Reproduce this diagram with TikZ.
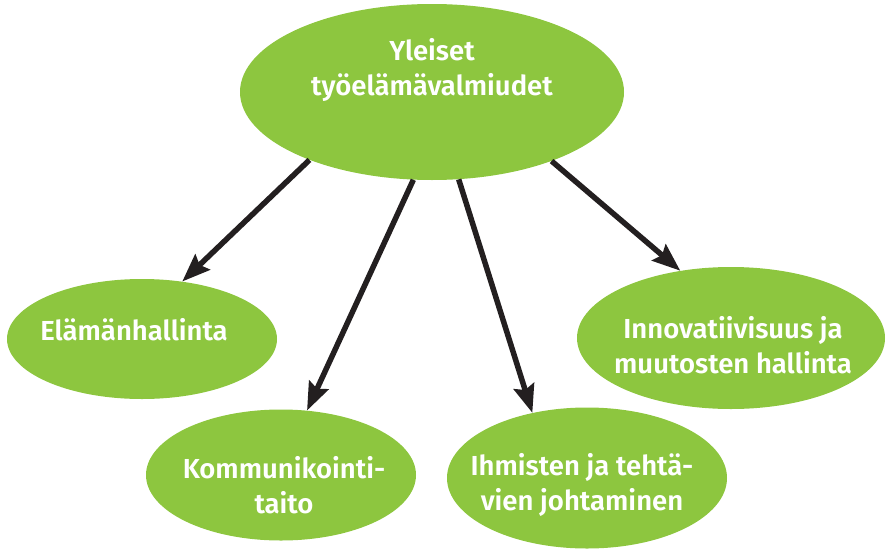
\documentclass[tikz,border=0pt]{standalone}
\usepackage{fontspec}
\setmainfont{Fira Sans}[UprightFont={* SemiBold}]
\usetikzlibrary{arrows.meta,shapes.geometric}
\definecolor{vihrea}{HTML}{8DC63F}
\definecolor{nuoli}{HTML}{231F20}
\tikzset{
	pallo/.style={ellipse, fill=vihrea, draw=none, inner sep=0pt},
	teksti/.style={text=white, align=center, font=\fontsize{27.5}{35}\selectfont},
	nuolet/.style={draw=nuoli, line width=5.5pt,
		-{Stealth[length=28pt, width=21pt, inset=4pt]}}
}
\begin{document}
\begin{tikzpicture}[x=1pt, y=-1pt]
	\useasboundingbox (0,0) rectangle (886,549);
	% Pallot
	\node[pallo, minimum width=384, minimum height=176] (yleiset) at (432,92) {};
	\node[pallo, minimum width=270, minimum height=120] (elama) at (142,339) {};
	\node[pallo, minimum width=270, minimum height=131] (komm) at (281,475) {};
	\node[pallo, minimum width=280, minimum height=141] (ihmiset) at (587,478) {};
	\node[pallo, minimum width=308, minimum height=142] (innov) at (731,338) {};
	% Tekstit
	\node[teksti] (yleisetT) at (432,70) {Yleiset\\työelämävalmiudet};
	\node[teksti] (elamaT) at (134,330) {Elämänhallinta};
	\node[teksti] (kommT) at (284,485) {Kommunikointi-\\taito};
	\node[teksti] (ihmisetT) at (582,485) {Ihmisten ja tehtä-\\vien johtaminen};
	\node[teksti] (innovT) at (733,345) {Innovatiivisuus ja\\muutosten hallinta};
	% Nuolet
	\draw[nuolet] (yleiset.209) -- (elama.55);
	\draw[nuolet] (yleiset.258) -- (komm.68);
	\draw[nuolet] (yleiset.287) -- (ihmiset.130);
	\draw[nuolet] (yleiset.330) -- (innov.127);
\end{tikzpicture}
\end{document}
